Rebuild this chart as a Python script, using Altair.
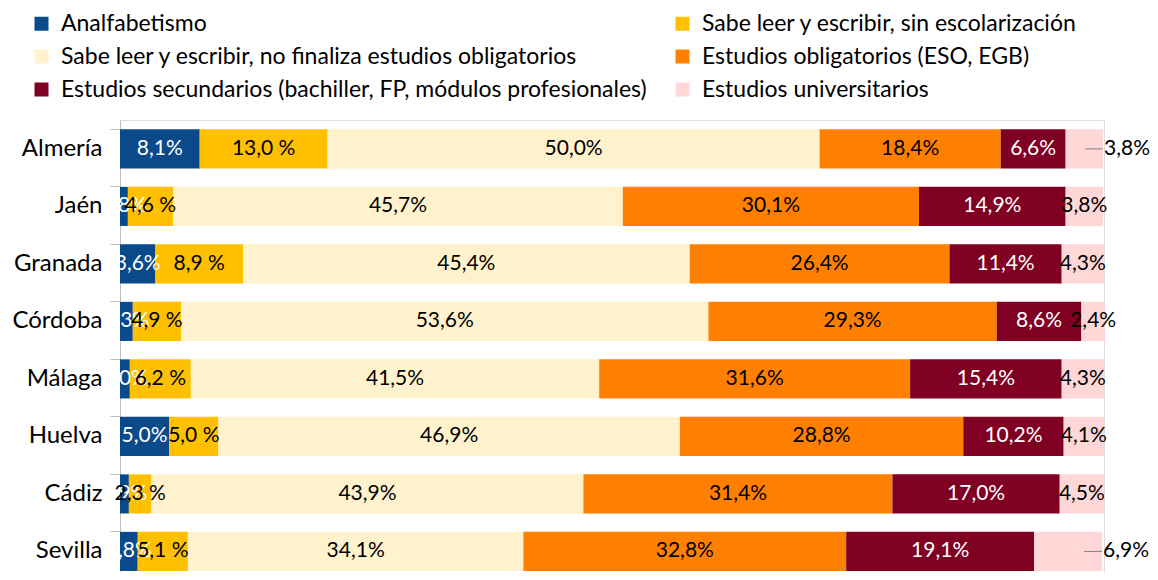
import altair as alt
import pandas as pd

provincias = ["Almería", "Jaén", "Granada", "Córdoba", "Málaga", "Huelva", "Cádiz", "Sevilla"]
niveles = [
    "Analfabetismo",
    "Sabe leer y escribir, sin escolarización",
    "Sabe leer y escribir, no finaliza estudios obligatorios",
    "Estudios obligatorios (ESO, EGB)",
    "Estudios secundarios (bachiller, FP, módulos profesionales)",
    "Estudios universitarios",
]
colores = ["#0B4A8A", "#FFC000", "#FFF2CC", "#FF8000", "#7F0022", "#FFD7D7"]

analfabetismo = [8.1, 0.8, 3.6, 1.3, 1.0, 5.0, 0.9, 1.8]
sin_escolarizacion = [13.0, 4.6, 8.9, 4.9, 6.2, 5.0, 2.3, 5.1]
no_finaliza = [50.0, 45.7, 45.4, 53.6, 41.5, 46.9, 43.9, 34.1]
obligatorios = [18.4, 30.1, 26.4, 29.3, 31.6, 28.8, 31.4, 32.8]
secundarios = [6.6, 14.9, 11.4, 8.6, 15.4, 10.2, 17.0, 19.1]
universitarios = [3.8, 3.8, 4.3, 2.4, 4.3, 4.1, 4.5, 6.9]
etiqueta_exterior = ["Almería", "Sevilla"]

series = [analfabetismo, sin_escolarizacion, no_finaliza, obligatorios, secundarios, universitarios]

rows = []
for i, p in enumerate(provincias):
    acc = 0.0
    for j, n in enumerate(niveles):
        v = series[j][i]
        txt = f"{v:.1f}".replace(".", ",") + (" %" if j == 1 else "%")
        outside = (j == 5 and p in etiqueta_exterior)
        if j in (0, 4):
            grp = "white"
        elif outside:
            grp = "outside"
        else:
            grp = "black"
        rows.append(dict(provincia=p, nivel=n, orden=j, valor=v, x0=acc, x1=acc + v,
                         mid=acc + v / 2, label=txt, grp=grp,
                         lead0=acc + v - 1.8))
        acc += v
df = pd.DataFrame(rows)

FONT = "Lato"
xscale = alt.Scale(domain=[0, 100], nice=False, zero=True)
yscale = alt.Scale(domain=provincias, paddingInner=0.32, paddingOuter=0.0904, align=0.9)

base = alt.Chart(df)

bars = base.mark_bar().encode(
    x=alt.X("x0:Q", scale=xscale, axis=None),
    x2="x1:Q",
    y=alt.Y("provincia:N", scale=yscale, title=None,
            axis=alt.Axis(domainColor="#BFBFBF", tickColor="#BFBFBF", tickSize=10,
                          bandPosition=0, labelFontSize=24, labelFont=FONT,
                          labelColor="#000000", labelPadding=8, grid=False)),
    color=alt.Color("nivel:N", scale=alt.Scale(domain=niveles, range=colores),
                    legend=alt.Legend(orient="none", legendX=-90, legendY=-108, columns=2,
                                      direction="horizontal",
                                      columnPadding=24, rowPadding=9, symbolType="square",
                                      symbolSize=196, symbolStrokeWidth=0, labelFontSize=23,
                                      labelFont=FONT, labelColor="#000000", labelOffset=8,
                                      title=None, labelLimit=0)),
    order=alt.Order("orden:Q"),
)

white_txt = base.transform_filter(alt.datum.grp == "white").mark_text(
    color="white", fontSize=21, font=FONT, clip=True
).encode(x=alt.X("mid:Q", scale=xscale), y=alt.Y("provincia:N", scale=yscale), text="label:N")

black_txt = base.transform_filter(alt.datum.grp == "black").mark_text(
    color="#000000", fontSize=21, font=FONT
).encode(x=alt.X("mid:Q", scale=xscale), y=alt.Y("provincia:N", scale=yscale), text="label:N")

leader = base.transform_filter(alt.datum.grp == "outside").mark_rule(
    color="#7F7F7F", strokeWidth=1
).encode(x=alt.X("lead0:Q", scale=xscale), x2="x1:Q", y=alt.Y("provincia:N", scale=yscale))

out_txt = base.transform_filter(alt.datum.grp == "outside").mark_text(
    color="#000000", fontSize=21, font=FONT, align="left", dx=1
).encode(x=alt.X("x1:Q", scale=xscale), y=alt.Y("provincia:N", scale=yscale), text="label:N")

chart = alt.layer(bars, white_txt, black_txt, leader, out_txt).properties(
    width=984, height=452,
    padding={"left": 112, "top": 112, "right": 46, "bottom": 0},
    autosize=alt.AutoSizeParams(type="none"),
).configure_view(stroke=None).configure(font=FONT)

chart.save("out.html", embed_options={"renderer": "svg", "actions": False})
